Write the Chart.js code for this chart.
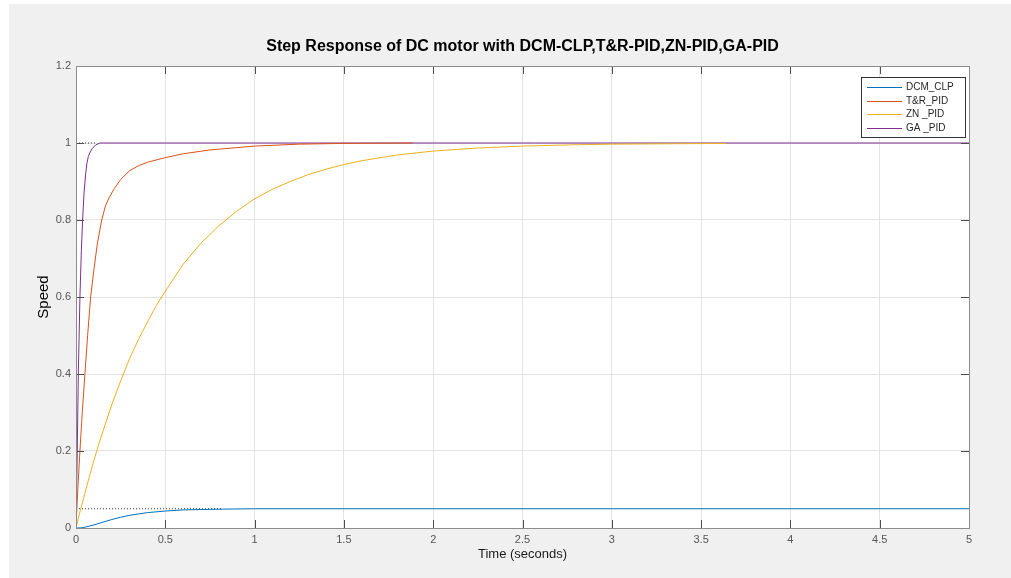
<!DOCTYPE html>
<html lang="en">
<head>
  <meta charset="UTF-8">
  <title>Step Response of DC motor</title>
  <script src="https://cdn.jsdelivr.net/npm/chart.js"></script>
  <style>
    html, body { margin: 0; padding: 0; background: #ffffff; }
    #wrap { width: 1011px; height: 578px; }
  </style>
</head>
<body>
  <div id="wrap"><canvas id="stepChart" width="1011" height="578"></canvas></div>
  <script>
    // series names, as in the legend
    const seriesNames = ['DCM_CLP', 'T&R_PID', 'ZN _PID', 'GA _PID'];
    const seriesColors = ['#0072BD', '#D95319', '#EDB120', '#7E2F8E'];

    // DCM closed loop (settles at 0.05)
    const tDCM = [0, 0.03, 0.05, 0.1, 0.15, 0.2, 0.25, 0.3, 0.4, 0.5, 0.6, 0.7, 0.82, 1.0, 5];
    const yDCM = [0, 0.0005, 0.002, 0.008, 0.015, 0.022, 0.028, 0.033, 0.04, 0.044, 0.047, 0.048, 0.049, 0.05, 0.05];

    // T&R PID
    const tTR = [0, 0.01, 0.022, 0.035, 0.05, 0.065, 0.082, 0.1, 0.12, 0.144, 0.165, 0.19, 0.215, 0.25, 0.3, 0.35, 0.4, 0.5, 0.6, 0.75, 0.9, 1.0, 1.25, 1.5, 1.885];
    const yTR = [0, 0.1, 0.2, 0.3, 0.4, 0.5, 0.6, 0.67, 0.74, 0.8, 0.837, 0.862, 0.882, 0.905, 0.928, 0.941, 0.95, 0.962, 0.972, 0.982, 0.988, 0.992, 0.997, 0.999, 1.0];

    // ZN PID
    const tZN = [0, 0.025, 0.05, 0.075, 0.1, 0.125, 0.15, 0.2, 0.25, 0.3, 0.35, 0.4, 0.45, 0.5, 0.6, 0.7, 0.8, 0.9, 1.0, 1.1, 1.2, 1.3, 1.4, 1.5, 1.6, 1.8, 2.0, 2.25, 2.5, 2.75, 3.0, 3.3, 3.64];
    const yZN = [0, 0.047, 0.09, 0.134, 0.175, 0.214, 0.25, 0.32, 0.382, 0.44, 0.49, 0.535, 0.578, 0.615, 0.685, 0.74, 0.785, 0.823, 0.855, 0.88, 0.9, 0.918, 0.932, 0.944, 0.954, 0.969, 0.979, 0.987, 0.992, 0.995, 0.997, 0.998, 0.999];

    // GA PID
    const tGA = [0, 0.007, 0.013, 0.022, 0.03, 0.037, 0.045, 0.054, 0.061, 0.069, 0.08, 0.09, 0.11, 0.134, 5];
    const yGA = [0, 0.2, 0.4, 0.6, 0.72, 0.8, 0.87, 0.92, 0.947, 0.965, 0.977, 0.985, 0.995, 1.0, 1.0];

    // dotted steady-state markers
    const tRefLow = [0, 0.82];
    const yRefLow = [0.05, 0.05];
    const tRefHigh = [0, 0.115];
    const yRefHigh = [1, 1];

    // tick labels
    const xTicks = [0, 0.5, 1, 1.5, 2, 2.5, 3, 3.5, 4, 4.5, 5];
    const xTickLabels = ['0', '0.5', '1', '1.5', '2', '2.5', '3', '3.5', '4', '4.5', '5'];
    const yTicks = [0, 0.2, 0.4, 0.6, 0.8, 1, 1.2];
    const yTickLabels = ['0', '0.2', '0.4', '0.6', '0.8', '1', '1.2'];

    const titleText = 'Step Response of DC motor with DCM-CLP,T&R-PID,ZN-PID,GA-PID';

    const pts = (t, y) => t.map((v, i) => ({ x: v, y: y[i] }));

    function line(label, t, y, color, order) {
      return {
        label: label,
        data: pts(t, y),
        borderColor: color,
        borderWidth: 1,
        pointRadius: 0,
        tension: 0,
        fill: false,
        order: order
      };
    }

    const datasets = [
      line(seriesNames[0], tDCM, yDCM, seriesColors[0], 3),
      line(seriesNames[1], tTR, yTR, seriesColors[1], 1),
      line(seriesNames[2], tZN, yZN, seriesColors[2], 0),
      line(seriesNames[3], tGA, yGA, seriesColors[3], 2),
      Object.assign(line('ref1', tRefLow, yRefLow, '#333333', 4), { borderDash: [1, 2] }),
      Object.assign(line('ref2', tRefHigh, yRefHigh, '#333333', 4), { borderDash: [1, 2] })
    ];

    // grey figure background, white axes area
    const backdrop = {
      id: 'backdrop',
      beforeDraw(chart) {
        const c = chart.ctx, a = chart.chartArea;
        c.save();
        c.fillStyle = '#ffffff';
        c.fillRect(0, 0, chart.width, chart.height);
        c.fillStyle = '#f0f0f0';
        c.fillRect(9, 4, chart.width - 9, chart.height - 4);
        c.fillStyle = '#ffffff';
        c.fillRect(a.left, a.top, a.right - a.left, a.bottom - a.top);
        c.restore();
      }
    };

    // axes box with inward ticks, title and legend
    const decorations = {
      id: 'decorations',
      afterDraw(chart) {
        const c = chart.ctx, a = chart.chartArea;
        const xs = chart.scales.x, ys = chart.scales.y;
        const tl = 8;
        c.save();
        c.strokeStyle = '#4d4d4d';
        c.lineWidth = 1;
        c.beginPath();
        xTicks.forEach(v => {
          const px = Math.round(xs.getPixelForValue(v)) + 0.5;
          c.moveTo(px, a.bottom); c.lineTo(px, a.bottom - tl);
          c.moveTo(px, a.top); c.lineTo(px, a.top + tl);
        });
        yTicks.forEach(v => {
          const py = Math.round(ys.getPixelForValue(v)) + 0.5;
          c.moveTo(a.left, py); c.lineTo(a.left + tl, py);
          c.moveTo(a.right, py); c.lineTo(a.right - tl, py);
        });
        c.stroke();
        c.strokeStyle = '#8c8c8c';
        c.strokeRect(Math.round(a.left) + 0.5, Math.round(a.top) + 0.5,
                     Math.round(a.right - a.left), Math.round(a.bottom - a.top));

        // title
        c.fillStyle = '#000000';
        c.font = 'bold 16px "Liberation Sans", Arial, sans-serif';
        c.textAlign = 'center';
        c.textBaseline = 'middle';
        c.fillText(titleText, (a.left + a.right) / 2, 47);

        // legend
        const lx = a.right - 108, ly = a.top + 11, lw = 104, lh = 60;
        c.fillStyle = '#ffffff';
        c.fillRect(lx, ly, lw, lh);
        c.strokeStyle = '#333333';
        c.strokeRect(Math.round(lx) + 0.5, Math.round(ly) + 0.5, lw, lh);
        c.font = '10px "Liberation Sans", Arial, sans-serif';
        c.textAlign = 'left';
        seriesNames.forEach((name, i) => {
          const y = Math.round(ly + 10 + i * 13.7) + 0.5;
          c.strokeStyle = seriesColors[i];
          c.beginPath();
          c.moveTo(lx + 6, y); c.lineTo(lx + 41, y);
          c.stroke();
          c.fillStyle = '#262626';
          c.fillText(name, lx + 45, y);
        });
        c.restore();
      }
    };

    const ctx = document.getElementById('stepChart').getContext('2d');
    new Chart(ctx, {
      type: 'line',
      data: { datasets: datasets },
      options: {
        responsive: false,
        animation: false,
        layout: { padding: { left: 9, top: 66, right: 42, bottom: 0 } },
        plugins: {
          legend: { display: false },
          title: { display: false },
          tooltip: { enabled: false }
        },
        scales: {
          x: {
            type: 'linear',
            min: 0,
            max: 5,
            afterFit: s => { s.height = 50; },
            afterBuildTicks: s => { s.ticks = xTicks.map(v => ({ value: v })); },
            ticks: {
              autoSkip: false,
              maxRotation: 0,
              padding: 5,
              color: '#555555',
              font: { family: '"Liberation Sans", Arial, sans-serif', size: 11 },
              callback: (v) => xTickLabels[xTicks.indexOf(v)]
            },
            grid: { color: '#e3e3e3', drawTicks: false },
            border: { display: false },
            title: {
              display: true,
              text: 'Time (seconds)',
              color: '#1a1a1a',
              font: { family: '"Liberation Sans", Arial, sans-serif', size: 13 },
              padding: { top: 0, bottom: 16 }
            }
          },
          y: {
            min: 0,
            max: 1.2,
            afterFit: s => { s.width = 67; },
            afterBuildTicks: s => { s.ticks = yTicks.map(v => ({ value: v })); },
            ticks: {
              autoSkip: false,
              padding: 5,
              color: '#555555',
              font: { family: '"Liberation Sans", Arial, sans-serif', size: 11 },
              callback: (v) => yTickLabels[yTicks.indexOf(v)]
            },
            grid: { color: '#e3e3e3', drawTicks: false },
            border: { display: false },
            title: {
              display: true,
              text: 'Speed',
              color: '#000000',
              font: { family: '"Liberation Sans", Arial, sans-serif', size: 15 },
              padding: { top: 26, bottom: 0 }
            }
          }
        }
      },
      plugins: [backdrop, decorations]
    });
  </script>
</body>
</html>
